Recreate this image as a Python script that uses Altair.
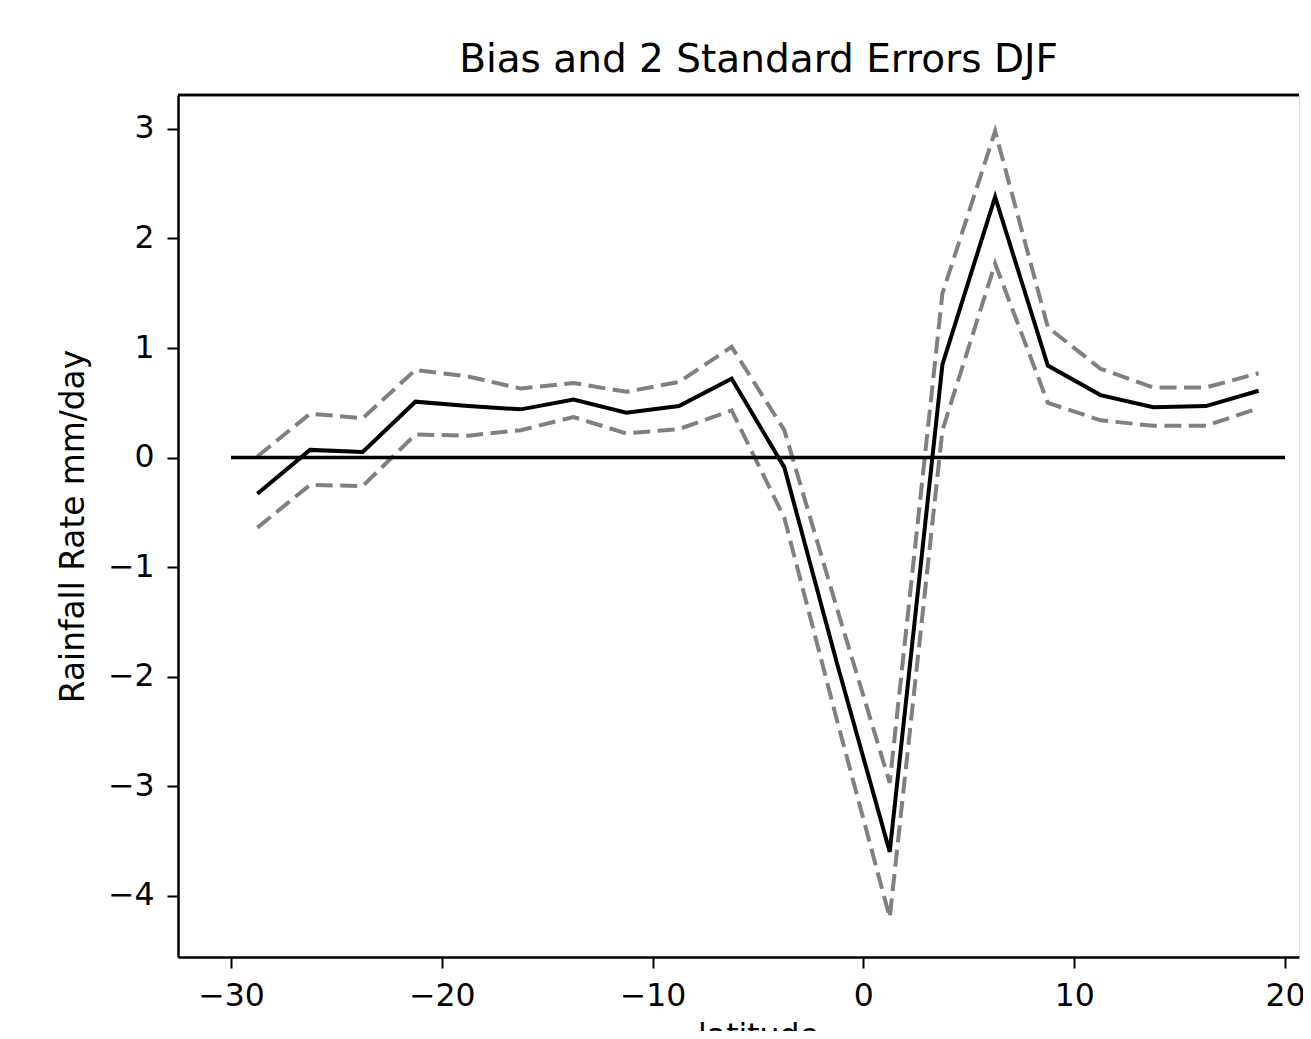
import altair as alt
import pandas as pd

# ---- data ----
lat = [-28.75, -26.25, -23.75, -21.25, -18.75, -16.25, -13.75, -11.25, -8.75, -6.25,
       -3.75, -1.25, 1.25, 3.75, 6.25, 8.75, 11.25, 13.75, 16.25, 18.75]
bias = [-0.33, 0.07, 0.05, 0.51, 0.47, 0.44, 0.53, 0.41, 0.47, 0.72,
        -0.09, -1.88, -3.60, 0.85, 2.38, 0.84, 0.57, 0.46, 0.47, 0.61]
upper = [0.01, 0.40, 0.36, 0.80, 0.74, 0.63, 0.68, 0.60, 0.69, 1.01,
         0.25, -1.38, -2.97, 1.50, 2.98, 1.19, 0.81, 0.64, 0.64, 0.77]
lower = [-0.64, -0.25, -0.26, 0.21, 0.20, 0.25, 0.37, 0.22, 0.26, 0.43,
         -0.55, -2.40, -4.20, 0.25, 1.77, 0.50, 0.34, 0.29, 0.29, 0.45]
zero_x = [-30, 20]
zero_y = [0, 0]
x_ticks = [-30, -20, -10, 0, 10, 20]
y_ticks = [-4, -3, -2, -1, 0, 1, 2, 3]

title_text = "Bias and 2 Standard Errors DJF"
x_title = "latitude"
y_title = "Rainfall Rate mm/day"

# ---- layout ----
W, H = 1121, 862
FONT = "DejaVu Sans"
FS = 31.5

df_bias = pd.DataFrame({"lat": lat, "val": bias})
df_bounds = pd.concat([
    pd.DataFrame({"lat": lat, "val": upper, "s": "upper"}),
    pd.DataFrame({"lat": lat, "val": lower, "s": "lower"}),
])
df_zero = pd.DataFrame({"lat": zero_x, "val": zero_y})

xscale = alt.Scale(domain=[-32.514, 20.665], nice=False, zero=False)
yscale = alt.Scale(domain=[-4.56, 3.31], nice=False, zero=False)

common_axis = dict(
    labelFont=FONT, labelFontSize=FS, labelColor="black",
    tickColor="black", tickSize=11, tickWidth=2,
    domainColor="black", domainWidth=2.5, grid=False,
    titleFont=FONT, titleFontWeight="normal", titleColor="black",
)

xaxis = alt.Axis(values=x_ticks, format="d", labelPadding=12, title=x_title,
                 titleFontSize=FS,
                 titleX=580, titleY=88, titleBaseline="alphabetic", titleAlign="center",
                 **common_axis)
yaxis = alt.Axis(values=y_ticks, format="d", labelPadding=13, title=y_title,
                 titleFontSize=32.8,
                 titleX=-95, titleY=431, titleAngle=270, titleBaseline="alphabetic",
                 titleAlign="center", **common_axis)

x_enc = alt.X("lat:Q", scale=xscale, axis=xaxis)
y_enc = alt.Y("val:Q", scale=yscale, axis=yaxis)

bounds = alt.Chart(df_bounds).mark_line(
    color="gray", strokeWidth=4, strokeDash=[17, 7.5], strokeCap="butt"
).encode(x=x_enc, y=y_enc, detail="s:N")

bias_line = alt.Chart(df_bias).mark_line(color="black", strokeWidth=4).encode(x=x_enc, y=y_enc)

zero_line = alt.Chart(df_zero).mark_line(color="black", strokeWidth=3.5).encode(x=x_enc, y=y_enc)

top_frame = alt.Chart(df_zero).mark_rule(color="black", strokeWidth=2.5).encode(
    x=alt.value(0), x2=alt.value(W), y=alt.value(0)
)

chart = alt.layer(bounds, bias_line, zero_line, top_frame).properties(
    width=W, height=H,
    title=alt.TitleParams(title_text, font=FONT, fontSize=39, fontWeight="normal",
                          color="black", anchor="middle", frame="group", dx=20,
                          offset=26, dy=43, baseline="alphabetic"),
    autosize=alt.AutoSizeParams(type="none"),
    padding={"left": 170, "top": 87, "right": 4, "bottom": 74},
).configure_view(strokeWidth=0).configure(background="white")

chart.save("out.html", embed_options={"renderer": "svg", "actions": False})
